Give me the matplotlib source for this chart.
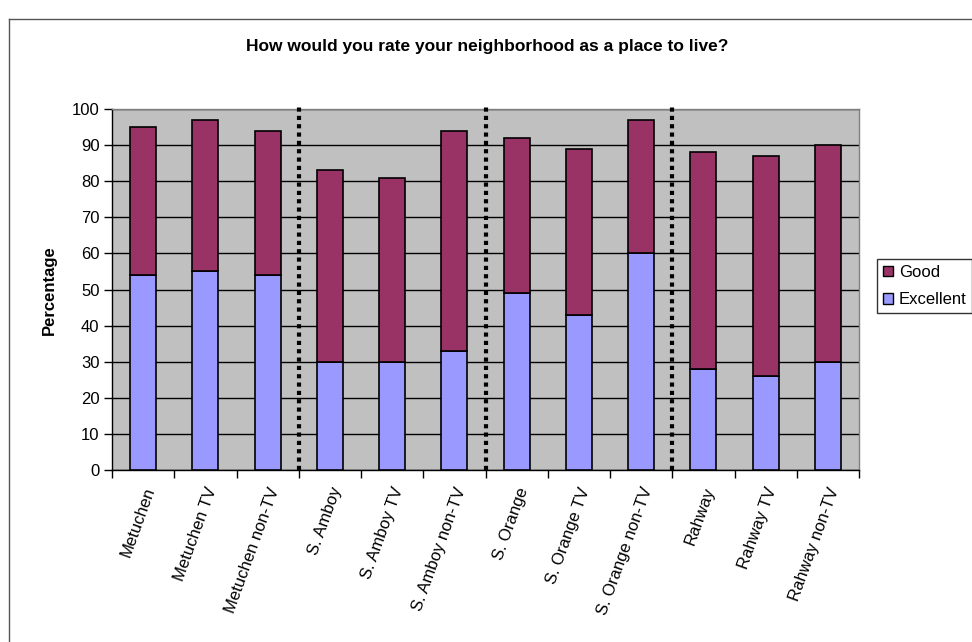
import matplotlib
matplotlib.use("Agg")
import matplotlib.pyplot as plt
from matplotlib.patches import Patch
from matplotlib.lines import Line2D
import numpy as np

categories = ["Metuchen", "Metuchen TV", "Metuchen non-TV",
              "S. Amboy", "S. Amboy TV", "S. Amboy non-TV",
              "S. Orange", "S. Orange TV", "S. Orange non-TV",
              "Rahway", "Rahway TV", "Rahway non-TV"]
excellent = [54, 55, 54, 30, 30, 33, 49, 43, 60, 28, 26, 30]
total = [95, 97, 94, 83, 81, 94, 92, 89, 97, 88, 87, 90]
good = [t - e for t, e in zip(total, excellent)]
group_boundaries = [2.5, 5.5, 8.5]
yticks = list(range(0, 101, 10))

plt.rcParams['font.family'] = ['Liberation Sans', 'DejaVu Sans']

fig = plt.figure(figsize=(9.72, 6.42), dpi=100)
ax = fig.add_axes([112/972, 1-470/642, (859-112)/972, (470-109)/642])
ax.set_facecolor('#C0C0C0')

x = np.arange(len(categories))
w = 0.42
ax.bar(x, excellent, w, color='#9999FF', edgecolor='black', linewidth=1.2, zorder=3)
ax.bar(x, good, w, bottom=excellent, color='#993366', edgecolor='black', linewidth=1.2, zorder=3)

for b in group_boundaries:
    ax.plot([b, b], [0, 101.5], color='black', linewidth=3, linestyle=(0, (1, 1)),
            clip_on=False, zorder=4)

ax.set_xlim(-0.5, len(categories) - 0.5)
ax.set_ylim(0, 100)
ax.set_yticks(yticks)
ax.yaxis.grid(True, color='black', linewidth=1)
ax.set_axisbelow(True)
ax.tick_params(axis='y', labelsize=12, length=6, width=1, direction='out', pad=3)

ax.set_xticks(x)
ax.set_xticklabels(categories, rotation=70, ha='right', rotation_mode='anchor', fontsize=12)
ax.tick_params(axis='x', which='major', length=0, pad=11)
ax.set_xticks(np.arange(-0.5, len(categories), 1), minor=True)
ax.tick_params(axis='x', which='minor', length=6, width=1, direction='out')

for s in ['top', 'right']:
    ax.spines[s].set_color('#808080')
    ax.spines[s].set_linewidth(1)
for s in ['left', 'bottom']:
    ax.spines[s].set_color('black')
    ax.spines[s].set_linewidth(1)

fig.text(49/972, 1 - 290/642, 'Percentage', rotation=90, ha='center', va='center',
         fontsize=12, fontweight='bold')

fig.text(487/972, 1 - 47/642, 'How would you rate your neighborhood as a place to live?',
         ha='center', va='center', fontsize=12.5, fontweight='bold')

handles = [Patch(facecolor='#993366', edgecolor='black', label='Good'),
           Patch(facecolor='#9999FF', edgecolor='black', label='Excellent')]
leg = fig.legend(handles=handles, loc='upper left', bbox_to_anchor=(877/972, 1 - 259/642),
                 fontsize=12, frameon=True, fancybox=False, handlelength=0.6,
                 handleheight=0.6, handletextpad=0.35, borderpad=0.35, labelspacing=0.75,
                 borderaxespad=0)
leg.get_frame().set_edgecolor('black')
leg.get_frame().set_linewidth(1)

fig.add_artist(Line2D([8.5/972, 8.5/972], [0, 1 - 18.5/642], transform=fig.transFigure,
                      color='#555555', linewidth=1))
fig.add_artist(Line2D([8.5/972, 1], [1 - 18.5/642, 1 - 18.5/642], transform=fig.transFigure,
                      color='#555555', linewidth=1))

fig.savefig('out.png', dpi=100)
